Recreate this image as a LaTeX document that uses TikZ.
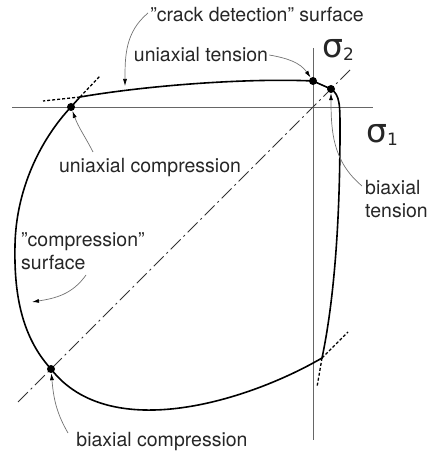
\documentclass[tikz,border=0pt]{standalone}
\usepackage{fontspec}
\setmainfont{TeX Gyre Heros}
\newfontfamily\sigfont{DejaVu Sans}
\usetikzlibrary{arrows.meta}

\begin{document}
\begin{tikzpicture}[x=1pt,y=1pt,
  lbl/.style={font=\fontsize{19.5}{23}\selectfont,text=black!85,inner sep=1pt,align=left},
  sig/.style={font=\sigfont\fontsize{33}{33}\selectfont,text=black!85,inner sep=0pt},
  dot/.style={circle,fill=black,inner sep=0pt,minimum size=8pt},
  surf/.style={line width=1.6pt,line join=round},
  axis/.style={line width=0.8pt,black!60},
  tang/.style={line width=1.3pt,dash pattern=on 3pt off 2pt},
  diag/.style={line width=0.9pt,black!80,dash pattern=on 14pt off 4pt on 2pt off 4pt},
  arr/.style={line width=0.7pt,black!55,-{Latex[length=7pt,width=4pt,black]}}]
  \useasboundingbox (0,0) rectangle (429,457);
  \coordinate (tl) at (80,360);\coordinate (br) at (322,99);
  \coordinate (pu) at (313,376);\coordinate (pb) at (331,368);
  \coordinate (pc) at (71,350);\coordinate (pd) at (51,88);
  \draw[axis](12,350)--(373,350);
  \draw[axis](313,409)--(313,17);
  \draw[diag](18,55)--(350,387);
  \draw[tang](tl)--(43,356);\draw[tang](tl)--(100,381);
  \draw[tang](br)--(348,125);\draw[tang](br)--(317,70);
  \draw[surf](tl) .. controls (150,372) and (250,379) .. (pu)--(pb)
    .. controls (340,362) and (340,352) .. (340,327)
    .. controls (340,207) and (330,137) .. (br)
    .. controls (250,57) and (110,12) .. (pd)
    .. controls (20,122) and (14,167) .. (15,212)
    .. controls (16,267) and (40,317) .. (pc)--cycle;
  \node[dot](du) at (pu){};\node[dot](db) at (pb){};
  \node[dot](dc) at (pc){};\node[dot](dd) at (pd){};
  \node[sig](s2) at (338,407){σ\raisebox{-3pt}{\fontsize{17}{17}\selectfont 2}};
  \node[sig](s1) at (382,322){σ\raisebox{-3pt}{\fontsize{17}{17}\selectfont 1}};
  \node[lbl](crack) at (257,442){\symbol{34}crack detection\symbol{34} surface};
  \node[lbl](utl) at (201,402){uniaxial tension};
  \node[lbl](ucl) at (150,289){uniaxial compression};
  \node[lbl,anchor=west](btl) at (364,258){biaxial\\tension};
  \node[lbl,anchor=west](csl) at (20,206){\symbol{34}compression\symbol{34}\\surface};
  \node[lbl](bcl) at (162,15){biaxial compression};
  \coordinate (cr0) at (148,444);\coordinate (topmid) at (125,371);
  \coordinate (uc0) at (93,305);\coordinate (bt0) at (362,271);
  \coordinate (cs0) at (86,182);\coordinate (cs1) at (32,155);
  \coordinate (bc0) at (68,24);
  \draw[arr](cr0) to[out=220,in=90] (topmid);
  \draw[arr](utl.east) to[out=-10,in=125] (du);
  \draw[arr](uc0) to[out=117,in=-70] (dc);
  \draw[arr](bt0) to[out=140,in=-90] (db);
  \draw[arr](cs0) to[out=235,in=9] (cs1);
  \draw[arr](bc0) to[out=120,in=-85] (dd);
\end{tikzpicture}
\end{document}
